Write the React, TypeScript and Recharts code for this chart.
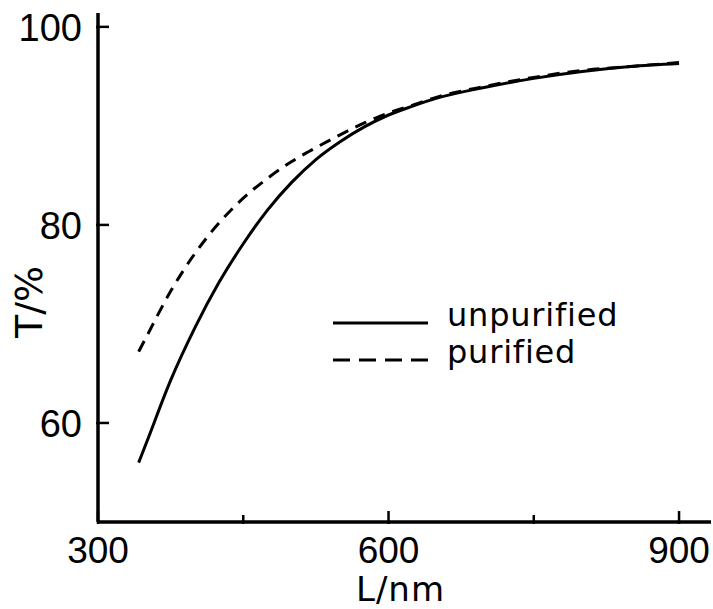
import { LineChart, Line, XAxis, YAxis, Legend, Label } from "recharts";

const wavelengths = [342, 350, 375, 400, 425, 450, 475, 500, 525, 550, 575, 600, 625, 650, 700, 750, 800, 850, 900];
// transmittance T/% per wavelength
const unpurified = [56.0, 58.0, 64.3, 69.6, 74.2, 78.1, 81.5, 84.3, 86.6, 88.4, 89.9, 91.1, 92.0, 92.8, 93.9, 94.8, 95.5, 96.0, 96.3];
const purified = [67.2, 68.7, 73.3, 77.1, 80.2, 82.7, 84.7, 86.4, 87.8, 89.1, 90.3, 91.3, 92.1, 92.9, 94.0, 94.9, 95.6, 96.0, 96.4];

const seriesOrder = ["unpurified", "purified"];
const xTicks = [300, 450, 600, 750, 900];
const xLabelled = [300, 600, 900];
const yTicks = [60, 80, 100];

const data = wavelengths.map((w, i) => ({
  nm: w,
  unpurified: unpurified[i],
  purified: purified[i],
}));

const TEXT_FONT = "DejaVu Sans";
const NUM_FONT = "Liberation Sans";

const XTick = ({ x, y, payload }: any) => {
  const major = xLabelled.includes(payload.value);
  return (
    <g>
      <line x1={x} x2={x} y1={y} y2={y - (major ? 13 : 9)} stroke="#000" strokeWidth={2.5} />
      {major && (
        <text x={x} y={y + 39} textAnchor="middle" fontSize={37} fontFamily={NUM_FONT} fill="#000">
          {payload.value}
        </text>
      )}
    </g>
  );
};

const YTick = ({ x, y, payload }: any) => (
  <g>
    <line x1={x} x2={x + 13} y1={y} y2={y} stroke="#000" strokeWidth={2.5} />
    <text x={x - 14} y={y} dy="0.36em" textAnchor="end" fontSize={38} fontFamily={NUM_FONT} fill="#000">
      {payload.value}
    </text>
  </g>
);

const LegendBox = (props: any) => {
  const items = [...(props.payload || [])].sort(
    (a: any, b: any) => seriesOrder.indexOf(a.dataKey) - seriesOrder.indexOf(b.dataKey)
  );
  return (
    <svg width={320} height={84}>
      {items.map((it: any, i: number) => {
        const y = 33 + i * 37;
        const dashed = it.payload && it.payload.strokeDasharray;
        return (
          <g key={it.value}>
            <line x1={0} x2={95} y1={y} y2={y} stroke="#000" strokeWidth={3} strokeDasharray={dashed ? "17 9" : undefined} />
            <text x={114} y={y + 3} fontSize={32} letterSpacing={0.8} fontFamily={TEXT_FONT} fill="#000">
              {it.value}
            </text>
          </g>
        );
      })}
    </svg>
  );
};

export default function App() {
  return (
    <div style={{ position: "absolute", left: 0, top: 0, width: 713, height: 609, background: "#fff" }}>
      <LineChart width={713} height={609} data={data} margin={{ top: 13, right: 2, left: 0, bottom: 0 }}>
        <XAxis
          dataKey="nm"
          type="number"
          domain={[300, 933]}
          ticks={xTicks}
          interval={0}
          height={87}
          tickSize={0}
          tickLine={false}
          tick={<XTick />}
          axisLine={{ stroke: "#000", strokeWidth: 3.5 }}
          allowDataOverflow
        >
          <Label
            content={(p: any) => {
              const vb = p.viewBox;
              return (
                <text x={vb.x + vb.width / 2 - 4} y={vb.y + 79} textAnchor="middle" fontSize={34} letterSpacing={1} fontFamily={TEXT_FONT} fill="#000">
                  L/nm
                </text>
              );
            }}
          />
        </XAxis>
        <YAxis
          type="number"
          domain={[50, 101.4]}
          ticks={yTicks}
          interval={0}
          width={98}
          tickSize={0}
          tickLine={false}
          tick={<YTick />}
          axisLine={{ stroke: "#000", strokeWidth: 3.5 }}
          allowDataOverflow
        >
          <Label
            content={(p: any) => {
              const vb = p.viewBox;
              return (
                <text
                  transform={`translate(${vb.x + 28}, ${vb.y + 289}) rotate(-90)`}
                  textAnchor="middle"
                  dy="0.36em"
                  fontSize={38}
                  fontFamily={TEXT_FONT}
                  fill="#000"
                >
                  T/%
                </text>
              );
            }}
          />
        </YAxis>
        <Legend
          layout="horizontal"
          verticalAlign="middle"
          align="center"
          content={<LegendBox />}
          wrapperStyle={{ left: 333, top: 290, width: 320 }}
        />
        <Line
          type="monotone"
          dataKey="unpurified"
          name="unpurified"
          stroke="#000"
          strokeWidth={3}
          dot={false}
          activeDot={false}
          isAnimationActive={false}
        />
        <Line
          type="monotone"
          dataKey="purified"
          name="purified"
          stroke="#000"
          strokeWidth={3}
          strokeDasharray="12 8"
          dot={false}
          activeDot={false}
          isAnimationActive={false}
        />
      </LineChart>
    </div>
  );
}
